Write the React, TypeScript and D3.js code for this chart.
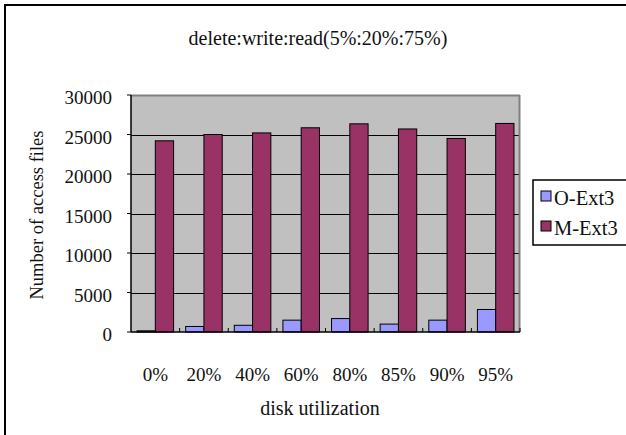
import React from "react";
import * as d3 from "d3";

const categories = ["0%", "20%", "40%", "60%", "80%", "85%", "90%", "95%"];
const seriesNames = ["O-Ext3", "M-Ext3"];
const oExt3 = [150, 700, 850, 1500, 1700, 1000, 1500, 2850];
const mExt3 = [24200, 25000, 25200, 25850, 26350, 25700, 24500, 26400];
const yTicks = [0, 5000, 10000, 15000, 20000, 25000, 30000];
const colors = ["#9999FF", "#993366"];

const W = 626;
const H = 435;
const plot = { left: 131, right: 520, top: 95, bottom: 332 };
const FONT = "'Liberation Serif', 'Times New Roman', serif";

export default function App() {
  const x = d3.scaleBand<string>().domain(categories).range([plot.left, plot.right]).paddingInner(0).paddingOuter(0);
  const inner = d3.scaleBand<string>().domain(seriesNames).range([0, x.bandwidth()]).paddingInner(0).paddingOuter(0.33);
  const y = d3.scaleLinear().domain([0, 30000]).range([plot.bottom, plot.top]);
  const series = [oExt3, mExt3];

  return (
    <svg width={W} height={H} style={{ position: "fixed", left: 0, top: 0, background: "#fff" }} fontFamily={FONT} fill="#111">
      <rect x={0} y={0} width={W} height={H} fill="#fff" />
      <rect x={5} y={5} width={W + 20} height={H + 20} fill="none" stroke="#000" strokeWidth={2} />
      <text x={318} y={45} textAnchor="middle" fontSize={20}>delete:write:read(5%:20%:75%)</text>

      <rect x={plot.left} y={plot.top} width={plot.right - plot.left} height={plot.bottom - plot.top} fill="#C0C0C0" />
      {yTicks.filter((t) => t > 0 && t < 30000).map((t) => (
        <line key={t} x1={plot.left} x2={plot.right} y1={Math.round(y(t)) + 0.5} y2={Math.round(y(t)) + 0.5} stroke="#000" strokeWidth={1} />
      ))}
      <line x1={plot.left} x2={plot.right} y1={plot.top + 0.5} y2={plot.top + 0.5} stroke="#808080" strokeWidth={2} />
      <line x1={plot.right - 0.5} x2={plot.right - 0.5} y1={plot.top} y2={plot.bottom} stroke="#808080" strokeWidth={2} />

      {categories.map((c, i) =>
        series.map((s, j) => {
          const bx = (x(c) as number) + (inner(seriesNames[j]) as number);
          const by = y(s[i]);
          return (
            <rect key={c + j} x={bx} y={by} width={inner.bandwidth()} height={plot.bottom - by}
              fill={colors[j]} stroke="#000" strokeWidth={1} />
          );
        })
      )}

      <line x1={plot.left} x2={plot.left} y1={plot.top} y2={plot.bottom} stroke="#000" strokeWidth={1.5} />
      <line x1={plot.left} x2={plot.right} y1={plot.bottom} y2={plot.bottom} stroke="#000" strokeWidth={1.5} />
      {yTicks.map((t) => (
        <g key={t}>
          <line x1={plot.left - 4} x2={plot.left} y1={y(t)} y2={y(t)} stroke="#000" />
          <text x={112} y={y(t) + 9} textAnchor="end" fontSize={19}>{t}</text>
        </g>
      ))}
      {categories.map((c, i) => (
        <g key={c}>
          {i > 0 && <line x1={x(c)} x2={x(c)} y1={plot.bottom} y2={plot.bottom - 4} stroke="#000" />}
          <text x={(x(c) as number) + x.bandwidth() / 2} y={381} textAnchor="middle" fontSize={19}>{c}</text>
        </g>
      ))}
      <line x1={plot.right} x2={plot.right} y1={plot.bottom} y2={plot.bottom - 4} stroke="#000" />

      <text x={320} y={415} textAnchor="middle" fontSize={20}>disk utilization</text>
      <text transform={`translate(43,215) rotate(-90)`} textAnchor="middle" fontSize={18.5}>Number of access files</text>

      <rect x={533} y={180} width={120} height={65} fill="#fff" stroke="#000" strokeWidth={1.5} />
      {seriesNames.map((n, j) => (
        <g key={n}>
          <rect x={541} y={191 + j * 30} width={10} height={10} fill={colors[j]} stroke="#000" />
          <text x={554} y={205 + j * 30} fontSize={20.5}>{n}</text>
        </g>
      ))}
    </svg>
  );
}
